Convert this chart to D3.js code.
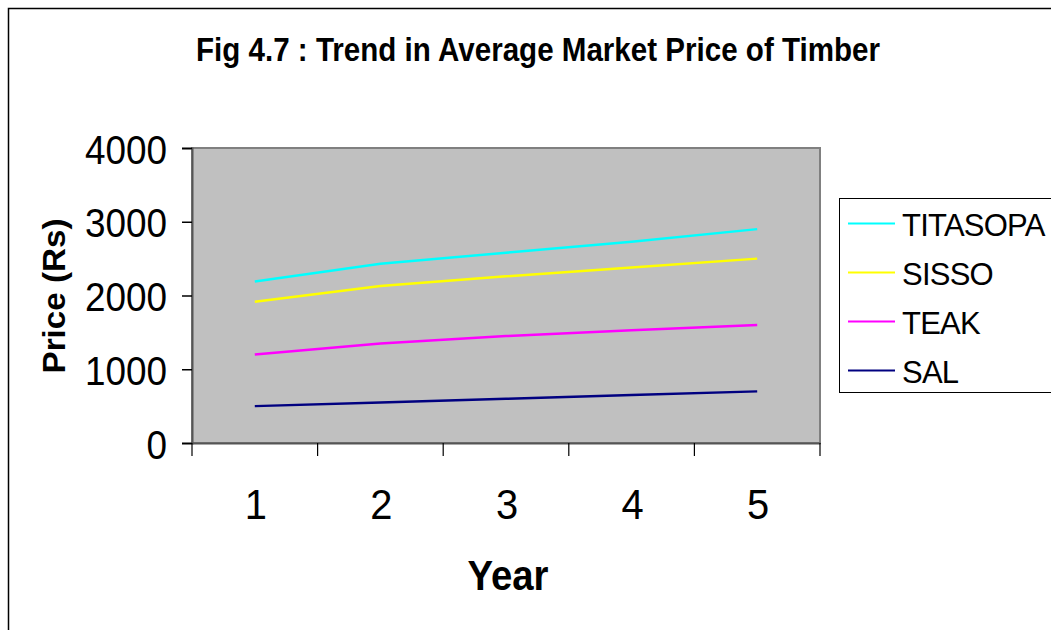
<!DOCTYPE html>
<html>
<head>
<meta charset="utf-8">
<script src="https://cdn.jsdelivr.net/npm/d3@7"></script>
<style>
html,body{margin:0;padding:0;background:#fff;}
svg{display:block;font-family:"Liberation Sans",Arial,sans-serif;}
</style>
</head>
<body>
<svg id="chart" width="1051" height="630"></svg>
<script>
const years = ["1","2","3","4","5"];
const seriesNames = ["TITASOPA","SISSO","TEAK","SAL"];
const titasopa = [2190, 2430, 2580, 2730, 2900];
const sisso = [1915, 2130, 2260, 2380, 2500];
const teak = [1200, 1350, 1450, 1530, 1600];
const sal = [500, 550, 600, 650, 700];
const yTicks = [0, 1000, 2000, 3000, 4000];
const colors = ["#00ffff", "#ffff00", "#ff00ff", "#000080"];
const seriesValues = [titasopa, sisso, teak, sal];

const svg = d3.select("#chart");
const plot = {left: 192, right: 820, top: 148, bottom: 443};

// outer frame
svg.append("rect").attr("x", 8.5).attr("y", 8.5).attr("width", 1060).attr("height", 640)
  .attr("fill", "#fff").attr("stroke", "#000").attr("stroke-width", 1.5);

const x = d3.scaleBand().domain(years).range([plot.left, plot.right]).padding(0);
const y = d3.scaleLinear().domain([0, 4000]).range([plot.bottom, plot.top]);

// plot area
svg.append("rect").attr("x", plot.left).attr("y", plot.top)
  .attr("width", plot.right - plot.left).attr("height", plot.bottom - plot.top)
  .attr("fill", "#c0c0c0").attr("stroke", "#808080").attr("stroke-width", 2);

// y axis
const gy = svg.append("g").attr("transform", `translate(${plot.left},0)`)
  .call(d3.axisLeft(y).tickValues(yTicks).tickSize(10).tickPadding(0).tickFormat(d3.format("d")));
gy.select(".domain").attr("stroke", "#555").attr("stroke-width", 2);
gy.selectAll(".tick line").attr("stroke", "#000").attr("stroke-width", 1.5);
gy.selectAll(".tick text").remove();
gy.selectAll(".tick").append("g").attr("transform", "translate(-25,15) scale(0.9,1)")
  .append("text").attr("text-anchor", "end").attr("fill", "#000")
  .attr("font-size", 41).attr("font-family", '"Liberation Sans",Arial,sans-serif')
  .text(d => d3.format("d")(d));

// x axis with boundary ticks
const gx = svg.append("g").attr("transform", `translate(0,${plot.bottom})`)
  .call(d3.axisBottom(x).tickSize(0).tickPadding(0));
gx.select(".domain").attr("stroke", "#555").attr("stroke-width", 2);
gx.selectAll(".tick text").remove();
gx.selectAll(".tick").append("g").attr("transform", "translate(1,76) scale(0.95,1)")
  .append("text").attr("text-anchor", "middle").attr("fill", "#000")
  .attr("font-size", 42).attr("font-family", '"Liberation Sans",Arial,sans-serif')
  .text(d => d);
const bounds = years.map(d => x(d)).concat([x(years[years.length-1]) + x.bandwidth()]);
gx.selectAll("line.bt").data(bounds).enter().append("line").attr("class", "bt")
  .attr("x1", d => d).attr("x2", d => d).attr("y1", 0).attr("y2", 13)
  .attr("stroke", "#000").attr("stroke-width", 1.2);

// lines
const line = d3.line().x((d, i) => x(years[i]) + x.bandwidth() / 2).y(d => y(d));
svg.append("g").selectAll("path").data(seriesValues).enter().append("path")
  .attr("d", d => line(d)).attr("fill", "none")
  .attr("stroke", (d, i) => colors[i]).attr("stroke-width", 2.5);

// title
svg.append("g").attr("transform", "translate(538,61)")
  .append("text").attr("text-anchor", "middle").attr("font-weight", "bold")
  .attr("font-size", 34).attr("fill", "#000")
  .attr("textLength", 684).attr("lengthAdjust", "spacingAndGlyphs")
  .text("Fig 4.7 : Trend in Average Market Price of Timber");

// y label
svg.append("g").attr("transform", "translate(65,296) rotate(-90)")
  .append("text").attr("text-anchor", "middle").attr("font-weight", "bold")
  .attr("font-size", 32).attr("fill", "#000")
  .attr("textLength", 155).attr("lengthAdjust", "spacingAndGlyphs")
  .text("Price (Rs)");

// x label
svg.append("g").attr("transform", "translate(508,590)")
  .append("text").attr("text-anchor", "middle").attr("font-weight", "bold")
  .attr("font-size", 43).attr("fill", "#000")
  .attr("textLength", 81).attr("lengthAdjust", "spacingAndGlyphs")
  .text("Year");

// legend
const lg = svg.append("g");
lg.append("rect").attr("x", 839.5).attr("y", 198.5).attr("width", 230).attr("height", 194)
  .attr("fill", "#fff").attr("stroke", "#000").attr("stroke-width", 1);
const items = lg.selectAll("g.item").data(seriesNames).enter().append("g").attr("class", "item")
  .attr("transform", (d, i) => `translate(0,${223.5 + i * 49})`);
items.append("line").attr("x1", 848).attr("x2", 895).attr("y1", 0).attr("y2", 0)
  .attr("stroke", (d, i) => colors[i]).attr("stroke-width", 2);
items.append("g").attr("transform", "translate(902,12) scale(0.97,1)")
  .append("text").attr("font-size", 32).attr("fill", "#000")
  .style("letter-spacing", "-0.8px")
  .text(d => d);
</script>
</body>
</html>
